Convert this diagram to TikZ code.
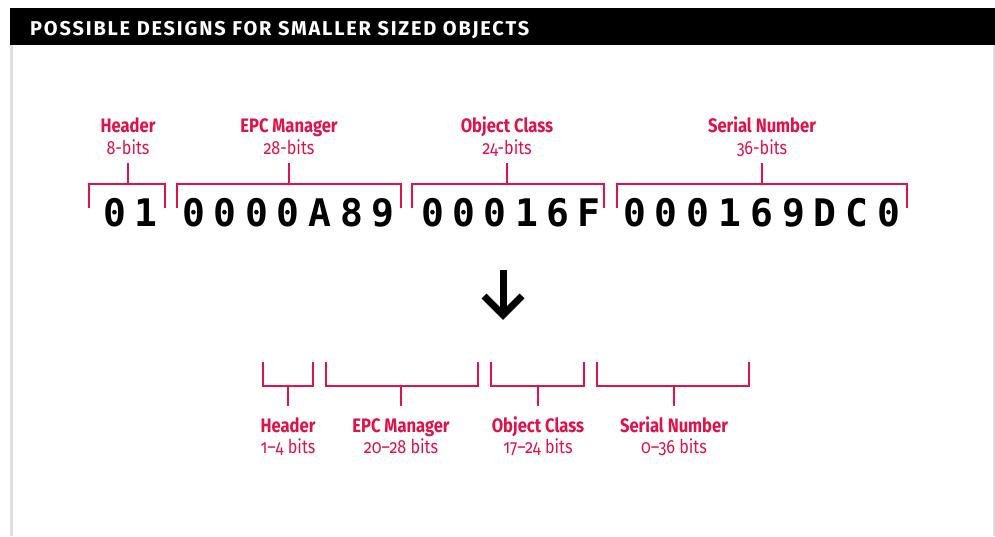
\documentclass[tikz,border=0pt]{standalone}
\usepackage{fontspec}
\usepackage{tikz}
\usetikzlibrary{calc}

\newfontfamily\labelfont{Fira Sans}[Numbers=OldStyle,FakeStretch=0.85]
\newfontfamily\titlefont{Fira Sans}[LetterSpace=9]
\newfontfamily\digitfont{DejaVu Sans Mono}

\begin{document}
\begin{tikzpicture}
			[x=1pt,y=-1pt,line cap=butt,
			%Styles
			bracket/.style={draw=epcred,line width=1.5pt},
			field name/.style={font=\labelfont\bfseries\fontsize{19.5}{19.5}\selectfont,text=epcred,inner sep=0pt,anchor=base},
			field bits/.style={font=\labelfont\fontsize{19}{19}\selectfont,text=epcred,inner sep=0pt,anchor=base},
			digit/.style={font=\digitfont\bfseries\fontsize{38}{38}\selectfont,inner sep=0pt,anchor=base},
			big arrow/.style={line width=7pt,miter limit=4}
			]
			
			%Colors
			\definecolor{epcred}{RGB}{224,18,74}	%labels and brackets
			\definecolor{frame}{RGB}{224,224,224}	%panel edges
			
			\useasboundingbox (0,0) rectangle (995,536);
			\fill[white] (0,0) rectangle (995,536);
			
			%Panel and title bar
			\fill[black] (10,8) rectangle (995,45);
			\fill[frame] (10,45) rectangle (13,536);
			\fill[frame] (993,45) rectangle (995,536);
			\node[font=\titlefont\bfseries\fontsize{20}{20}\selectfont,text=white,inner sep=0pt,anchor=base west] (title) at (30,35) {POSSIBLE DESIGNS FOR SMALLER SIZED OBJECTS};
			
			%The long code
			\foreach \ch [count=\k from 0] in {0,1}
				\node[digit] (hdrd\k) at ({114.5+\k*31.5},226) {\ch};
			\foreach \ch [count=\k from 0] in {0,0,0,0,A,8,9}
				\node[digit] (mgrd\k) at ({193.5+\k*31.6},226) {\ch};
			\foreach \ch [count=\k from 0] in {0,0,0,1,6,F}
				\node[digit] (clsd\k) at ({433+\k*31.2},226) {\ch};
			\foreach \ch [count=\k from 0] in {0,0,0,1,6,9,D,C,0}
				\node[digit] (serd\k) at ({634.5+\k*31.8},226) {\ch};
			
			%Upper fields
			\node[field name] (hdr) at (128,132) {Header};
			\node[field bits] (hdrbits) at (128,154) {8-bits};
			\node[field name] (mgr) at (289,132) {EPC Manager};
			\node[field bits] (mgrbits) at (289,154) {28-bits};
			\node[field name] (cls) at (507,132) {Object Class};
			\node[field bits] (clsbits) at (507,154) {24-bits};
			\node[field name] (ser) at (762,132) {Serial Number};
			\node[field bits] (serbits) at (762,154) {36-bits};
			
			\draw[bracket] (89,208) |- (165,184) -- (165,208);
			\draw[bracket] ([yshift=-9pt]hdrbits.base) -- (hdrbits.base |- 0,184);
			\draw[bracket] (177,208) |- (401,184) -- (401,208);
			\draw[bracket] ([yshift=-9pt]mgrbits.base) -- (mgrbits.base |- 0,184);
			\draw[bracket] (412,208) |- (604,184) -- (604,208);
			\draw[bracket] ([yshift=-9pt]clsbits.base) -- (clsbits.base |- 0,184);
			\draw[bracket] (617,208) |- (907,184) -- (907,208);
			\draw[bracket] ([yshift=-9pt]serbits.base) -- (serbits.base |- 0,184);
			
			%Arrow
			\coordinate (arrtop) at (503,270);
			\coordinate (arrtip) at (503,315);
			\draw[big arrow] (arrtop) -- (arrtip);
			\draw[big arrow] ($(arrtip)+(-19,-19)$) -- (arrtip) -- ($(arrtip)+(19,-19)$);
			
			%Lower fields
			\draw[bracket] (263,362) |- (313,386) -- (313,362);
			\draw[bracket] (326,362) |- (478,386) -- (478,362);
			\draw[bracket] (491,362) |- (584,386) -- (584,362);
			\draw[bracket] (597,362) |- (749,386) -- (749,362);
			
			\node[field name] (shdr) at (288,432) {Header};
			\node[field bits] (shdrbits) at (288,453) {1–4 bits};
			\node[field name] (smgr) at (401,432) {EPC Manager};
			\node[field bits] (smgrbits) at (401,453) {20–28 bits};
			\node[field name] (scls) at (538,432) {Object Class};
			\node[field bits] (sclsbits) at (538,453) {17–24 bits};
			\node[field name] (sser) at (674,432) {Serial Number};
			\node[field bits] (sserbits) at (674,453) {0–36 bits};
			
			\draw[bracket] (shdr.base |- 0,386) -- (shdr.base |- 0,406);
			\draw[bracket] (smgr.base |- 0,386) -- (smgr.base |- 0,406);
			\draw[bracket] (scls.base |- 0,386) -- (scls.base |- 0,406);
			\draw[bracket] (sser.base |- 0,386) -- (sser.base |- 0,406);
		\end{tikzpicture}
\end{document}
